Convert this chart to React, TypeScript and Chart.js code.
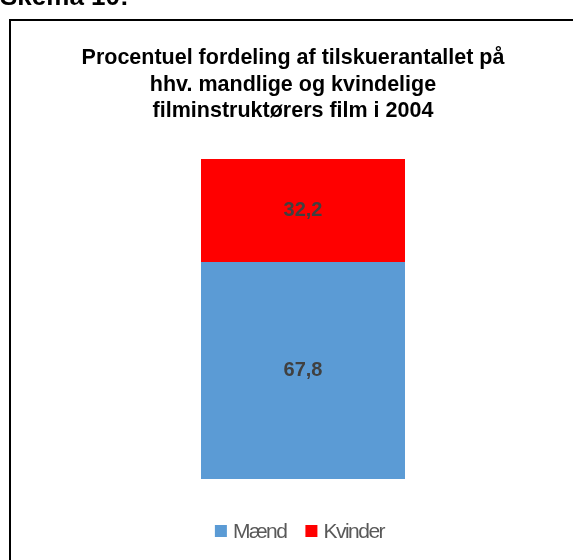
import React, { useEffect, useRef } from "react";
import { Chart, registerables } from "chart.js";

Chart.register(...registerables);

// ---- data ----
const categories = ["2004"];
const seriesLabels = ["Mænd", "Kvinder"];
const maendValues = [67.8];
const kvinderValues = [32.2];
const seriesColors = ["#5B9BD5", "#FF0000"];
const titleLines = [
  "Procentuel fordeling af tilskuerantallet på",
  "hhv. mandlige og kvindelige",
  "filminstruktørers film i 2004",
];
const headingText = "Skema 10:";

const W = 573;
const H = 560;
const FONT = '"Liberation Sans", Arial, Helvetica, sans-serif';

const fmt = (v: number) => v.toFixed(1).replace(".", ",");

const framePlugin = {
  id: "frame",
  beforeDraw(chart: any) {
    const ctx = chart.ctx as CanvasRenderingContext2D;
    ctx.save();
    ctx.fillStyle = "#ffffff";
    ctx.fillRect(0, 0, chart.width, chart.height);
    // heading above the frame (cut off at top)
    ctx.fillStyle = "#000000";
    ctx.font = `bold 26px ${FONT}`;
    ctx.textAlign = "left";
    ctx.textBaseline = "alphabetic";
    ctx.fillText(headingText, 0, 5);
    // frame
    ctx.strokeStyle = "#000000";
    ctx.lineWidth = 2;
    ctx.strokeRect(10, 20, 800, 800);
    // title
    ctx.font = `bold 21.5px ${FONT}`;
    ctx.textAlign = "center";
    const cx = (chart.chartArea.left + chart.chartArea.right) / 2 - 10;
    const baselines = [64, 90.5, 117];
    titleLines.forEach((line, i) => ctx.fillText(line, cx, baselines[i]));
    ctx.restore();
  },
};

const labelPlugin = {
  id: "valueLabels",
  afterDatasetsDraw(chart: any) {
    const ctx = chart.ctx as CanvasRenderingContext2D;
    ctx.save();
    ctx.font = `bold 20px ${FONT}`;
    ctx.fillStyle = "#404040";
    ctx.textAlign = "center";
    ctx.textBaseline = "middle";
    chart.data.datasets.forEach((ds: any, i: number) => {
      const meta = chart.getDatasetMeta(i);
      meta.data.forEach((el: any, j: number) => {
        const p = el.getProps(["x", "y", "base"], true);
        ctx.fillText(fmt(ds.data[j]), p.x, (p.y + p.base) / 2);
      });
    });
    ctx.restore();
  },
};

const legendPlugin = {
  id: "customLegend",
  afterDraw(chart: any) {
    const ctx = chart.ctx as CanvasRenderingContext2D;
    ctx.save();
    ctx.font = `21px ${FONT}`;
    (ctx as any).letterSpacing = "-1.5px";
    ctx.textAlign = "left";
    ctx.textBaseline = "alphabetic";
    const box = 12;
    const gap = 6;
    const itemGap = 19;
    const items = chart.data.datasets.map((ds: any) => ({
      label: ds.label as string,
      color: ds.backgroundColor as string,
      w: ctx.measureText(ds.label).width,
    }));
    const total = items.reduce(
      (s: number, it: any, i: number) => s + box + gap + it.w + (i ? itemGap : 0),
      0
    );
    const center = (chart.chartArea.left + chart.chartArea.right) / 2 - 3.5;
    let x = center - total / 2;
    const boxTop = chart.chartArea.bottom + 46;
    const baseline = chart.chartArea.bottom + 59;
    items.forEach((it: any) => {
      ctx.fillStyle = it.color;
      ctx.fillRect(x, boxTop, box, box);
      ctx.fillStyle = "#595959";
      ctx.fillText(it.label, x + box + gap, baseline);
      x += box + gap + it.w + itemGap;
    });
    ctx.restore();
  },
};

export default function App() {
  const canvasRef = useRef<HTMLCanvasElement | null>(null);

  useEffect(() => {
    const canvas = canvasRef.current;
    if (!canvas) return;
    Chart.defaults.font.family = FONT;
    const chart = new Chart(canvas, {
      type: "bar",
      data: {
        labels: categories,
        datasets: [
          {
            label: seriesLabels[0],
            data: maendValues,
            backgroundColor: seriesColors[0],
            borderWidth: 0,
            categoryPercentage: 1,
            barPercentage: 204 / 306,
          },
          {
            label: seriesLabels[1],
            data: kvinderValues,
            backgroundColor: seriesColors[1],
            borderWidth: 0,
            categoryPercentage: 1,
            barPercentage: 204 / 306,
          },
        ],
      },
      options: {
        responsive: false,
        maintainAspectRatio: false,
        animation: false,
        devicePixelRatio: 1,
        layout: { padding: { left: 150, right: W - 456, top: 159, bottom: H - 479 } },
        scales: {
          x: { stacked: true, display: false },
          y: { stacked: true, display: false, min: 0, max: 100 },
        },
        plugins: {
          legend: { display: false },
          title: { display: false },
          tooltip: { enabled: false },
        },
      },
      plugins: [framePlugin, labelPlugin, legendPlugin],
    });
    return () => chart.destroy();
  }, []);

  return (
    <div style={{ position: "fixed", left: 0, top: 0, width: W, height: H, overflow: "hidden", background: "#fff" }}>
      <canvas ref={canvasRef} width={W} height={H} style={{ display: "block", width: W, height: H }} />
    </div>
  );
}
